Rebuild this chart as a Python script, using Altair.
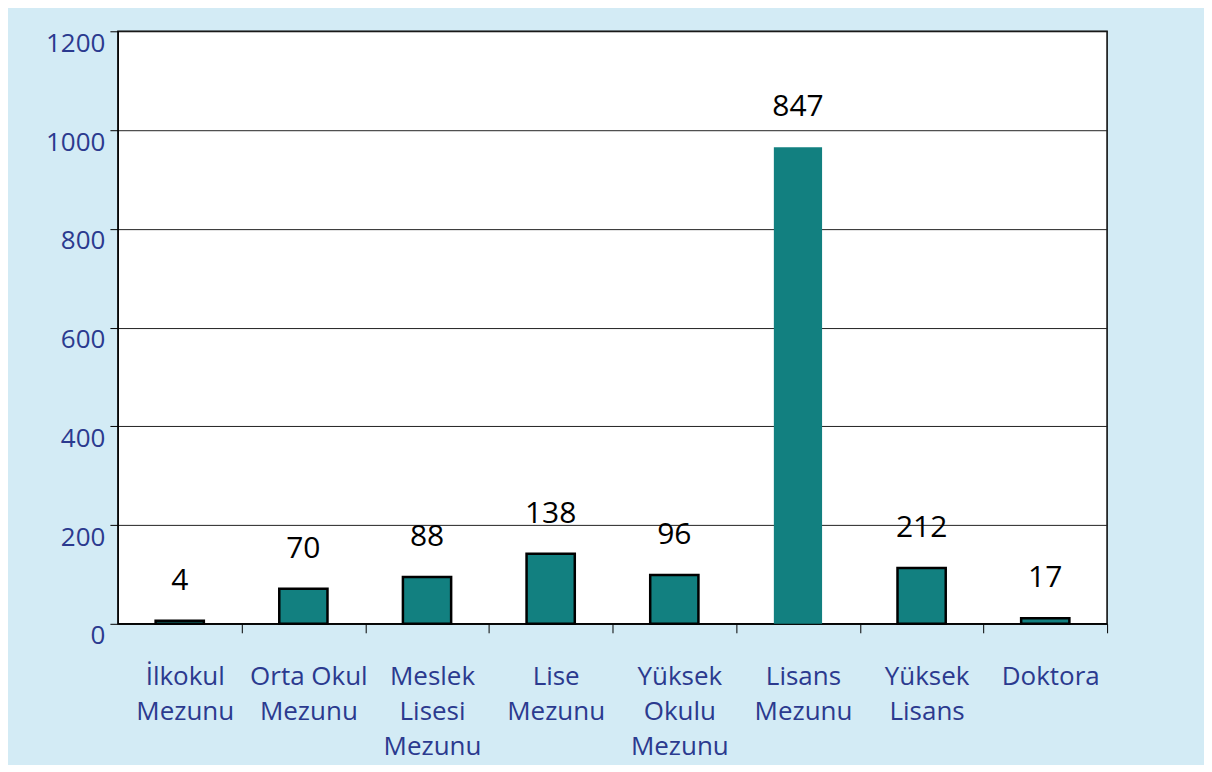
import altair as alt
import pandas as pd

categories = ["İlkokul|Mezunu", "Orta Okul|Mezunu", "Meslek|Lisesi|Mezunu", "Lise|Mezunu",
              "Yüksek|Okulu|Mezunu", "Lisans|Mezunu", "Yüksek|Lisans", "Doktora"]
bar_heights = [6, 71, 95, 142, 99, 965, 113, 11]
label_texts = ["4", "70", "88", "138", "96", "847", "212", "17"]

df = pd.DataFrame({"cat": categories, "h": bar_heights, "lbl": label_texts})

label_color = "#2b3a8f"
font = "Open Sans"

x = alt.X("cat:N", sort=categories, title=None,
          scale=alt.Scale(paddingInner=0.61, paddingOuter=0.305),
          axis=alt.Axis(labelExpr="split(datum.label, '|')", labelAngle=0,
                        labelColor=label_color, labelFont=font, labelFontSize=26,
                        labelLineHeight=35, labelPadding=31, tickOffset=62,
                        labelOffset=-57,
                        tickSize=9, tickColor="#000", domainColor="#000",
                        labelBaseline="top"))
y = alt.Y("h:Q", title=None,
          scale=alt.Scale(domain=[0, 1200], nice=False),
          axis=alt.Axis(values=[0, 200, 400, 600, 800, 1000, 1200], format="d",
                        labelColor=label_color, labelFont=font, labelFontSize=26,
                        labelOffset=12, labelPadding=5, tickSize=8, tickColor="#000",
                        domainColor="#000", gridColor="#222", gridWidth=1,
                        gridOpacity=1))

bars = alt.Chart(df).mark_bar(color="#128080", stroke="#000").encode(
    x=x, y=y,
    strokeWidth=alt.condition(alt.datum.cat == "Lisans|Mezunu", alt.value(0), alt.value(2.5)),
)
texts = alt.Chart(df).mark_text(font=font, fontSize=30, color="#000",
                                baseline="middle", dy=-40).encode(
    x=alt.X("cat:N", sort=categories), y="h:Q", text="lbl:N")

chart = (bars + texts).properties(
    width=990, height=593,
    autosize=alt.AutoSizeParams(type="none"),
    padding={"left": 110, "top": 23, "right": 97, "bottom": 141},
    background="#d3ebf5",
).configure_view(fill="#ffffff", stroke="#000", strokeWidth=1.5)

chart.save("out.html", embed_options={"renderer": "svg", "actions": False})
